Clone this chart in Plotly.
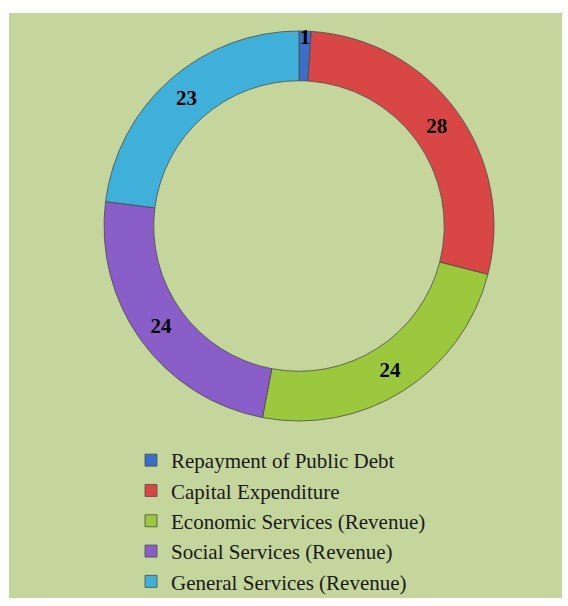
import plotly.graph_objects as go

labels = ["Repayment of Public Debt", "Capital Expenditure", "Economic Services (Revenue)",
          "Social Services (Revenue)", "General Services (Revenue)"]
values = [1, 28, 24, 24, 23]
colors = ["#3b6ec6", "#d94646", "#9cc83e", "#8a5ec8", "#3fb0da"]

W, H = 568, 606
CX, CY, R = 299, 226, 195
fig = go.Figure(go.Pie(
    labels=labels, values=values, hole=0.745, sort=False, direction="clockwise", rotation=0,
    marker=dict(colors=colors, line=dict(color="#4a4a4a", width=0.8)),
    texttemplate="<b>%{value}</b>", textposition="inside", insidetextorientation="horizontal",
    textfont=dict(family="Liberation Serif, Times New Roman, serif", size=21, color="black"),
    domain=dict(x=[(CX - R) / W, (CX + R) / W], y=[1 - (CY + R) / H, 1 - (CY - R) / H]),
    showlegend=True,
))
fig.update_layout(
    width=W, height=H, margin=dict(l=0, r=0, t=0, b=0),
    paper_bgcolor="white", plot_bgcolor="white",
    shapes=[dict(type="rect", xref="paper", yref="paper", x0=9 / W, x1=562 / W,
                 y0=1 - 598 / H, y1=1 - 13 / H, fillcolor="#c4d69c", line=dict(width=0), layer="below")],
    legend=dict(x=(171 - 40) / W, y=1 - 440 / H, xanchor="left", yanchor="top",
                font=dict(family="Liberation Serif, Times New Roman, serif", size=21, color="#1a1a1a"),
                bgcolor="rgba(0,0,0,0)", tracegroupgap=0, itemclick=False),
    uniformtext=dict(minsize=18, mode="show"),
)
fig.write_html("out.html", config={"displayModeBar": False},
               post_script="document.body.style.margin='0';document.body.style.overflow='hidden';")
